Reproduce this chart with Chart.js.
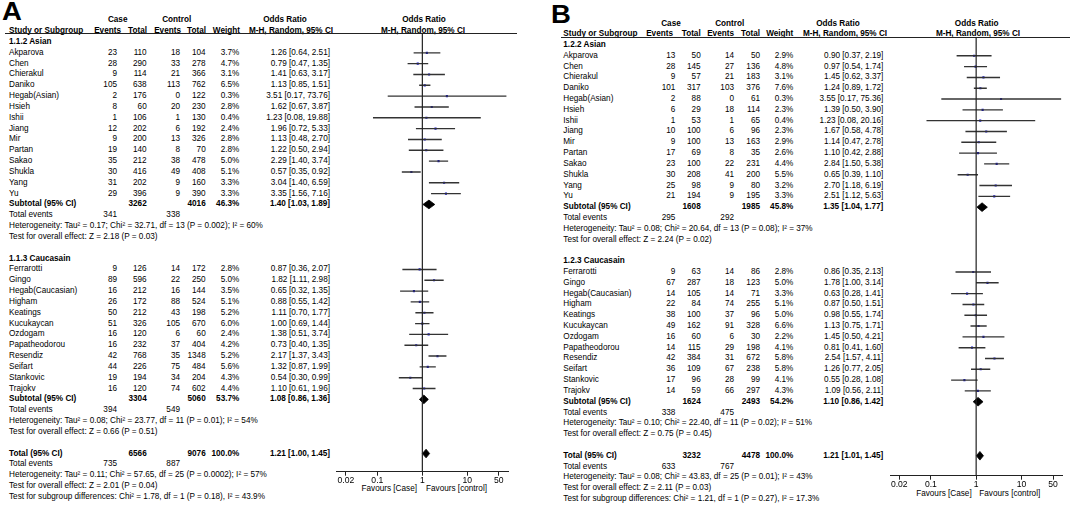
<!DOCTYPE html>
<html><head><meta charset="utf-8">
<script src="https://cdn.jsdelivr.net/npm/chart.js@4.4.1/dist/chart.umd.min.js"></script>
<style>
html,body{margin:0;padding:0;background:#fff;}
body{width:1072px;height:505px;position:relative;overflow:hidden;font-family:"Liberation Sans",Arial,sans-serif;}
.t{position:absolute;font-size:8.2px;line-height:1;white-space:nowrap;color:#000;}
.b{font-weight:bold;}
.hl{position:absolute;height:0;border-top:1px solid #222;}
.lab{position:absolute;font-weight:bold;font-size:25px;line-height:1;color:#000;transform-origin:left top;transform:scaleX(1.1);}
canvas{position:absolute;}
</style></head><body>
<div class="lab" style="left:2px;top:-1px;">A</div>
<div class="lab" style="left:551px;top:2px;">B</div>
<script>
// ---------- DATA ----------
const asianStudies = ["Akparova","Chen","Chierakul","Daniko","Hegab(Asian)","Hsieh","Ishii","Jiang","Mir","Partan","Sakao","Shukla","Yang","Yu"];
const caucStudies = ["Ferrarotti","Gingo","Hegab(Caucasian)","Higham","Keatings","Kucukaycan","Ozdogam","Papatheodorou","Resendiz","Seifart","Stankovic","Trajokv"];
const tickValues = [0.02, 0.1, 1, 10, 50];
const tickLabels = ["0.02", "0.1", "1", "10", "50"];

// Panel A (Asian 14 then Caucasian 12)
const caseEventsA = [23,28,9,105,2,8,1,12,9,19,35,30,31,29, 9,89,16,26,50,51,16,16,42,44,19,16];
const caseTotalA  = [110,290,114,638,176,60,106,202,200,140,212,416,202,396, 126,596,212,172,212,326,120,232,768,226,194,120];
const ctrlEventsA = [18,33,21,113,0,20,1,6,13,8,38,49,9,9, 14,22,16,88,43,105,6,37,35,75,34,74];
const ctrlTotalA  = [104,278,366,762,122,230,130,192,326,70,478,408,160,390, 172,250,144,524,198,670,60,404,1348,484,204,602];
const weightA     = [3.7,4.7,3.1,6.5,0.3,2.8,0.4,2.4,2.8,2.8,5.0,5.1,3.3,3.3, 2.8,5.0,3.5,5.1,5.2,6.0,2.4,4.2,5.2,5.6,4.3,4.4];
const orA = [1.26,0.79,1.41,1.13,3.51,1.62,1.23,1.96,1.13,1.22,2.29,0.57,3.04,3.35, 0.87,1.82,0.65,0.88,1.11,1.00,1.38,0.73,2.17,1.32,0.54,1.10];
const loA = [0.64,0.47,0.63,0.85,0.17,0.67,0.08,0.72,0.48,0.50,1.40,0.35,1.40,1.56, 0.36,1.11,0.32,0.55,0.70,0.69,0.51,0.40,1.37,0.87,0.30,0.61];
const hiA = [2.51,1.35,3.17,1.51,73.76,3.87,19.88,5.33,2.70,2.94,3.74,0.92,6.59,7.16, 2.07,2.98,1.35,1.42,1.77,1.44,3.74,1.35,3.43,1.99,0.99,1.96];
// summaries: Asian subtotal, Caucasian subtotal, overall total
const sumCaseTotalA = [3262, 3304, 6566];
const sumCtrlTotalA = [4016, 5060, 9076];
const sumWeightA = [46.3, 53.7, 100.0];
const sumOrA = [1.40, 1.08, 1.21];
const sumLoA = [1.03, 0.86, 1.00];
const sumHiA = [1.89, 1.36, 1.45];
const totEvCaseA = [341, 394, 735];
const totEvCtrlA = [338, 549, 887];
const hetA = ["Heterogeneity: Tau² = 0.17; Chi² = 32.71, df = 13 (P = 0.002); I² = 60%",
              "Heterogeneity: Tau² = 0.08; Chi² = 23.77, df = 11 (P = 0.01); I² = 54%",
              "Heterogeneity: Tau² = 0.11; Chi² = 57.65, df = 25 (P = 0.0002); I² = 57%"];
const effectA = ["Test for overall effect: Z = 2.18 (P = 0.03)",
                 "Test for overall effect: Z = 0.66 (P = 0.51)",
                 "Test for overall effect: Z = 2.01 (P = 0.04)"];
const subgroupTestA = "Test for subgroup differences: Chi² = 1.78, df = 1 (P = 0.18), I² = 43.9%";
const groupTitlesA = ["1.1.2 Asian", "1.1.3 Caucasain"];

// Panel B
const caseEventsB = [13,28,9,101,2,6,1,10,9,17,23,30,25,21, 9,67,14,22,38,49,16,14,42,36,17,14];
const caseTotalB  = [50,145,57,317,88,29,53,100,100,69,100,208,98,194, 63,287,105,84,100,162,60,115,384,109,96,59];
const ctrlEventsB = [14,27,21,103,0,18,1,6,13,8,22,41,9,9, 14,18,14,74,37,91,6,29,31,67,28,66];
const ctrlTotalB  = [50,136,183,376,61,114,65,96,163,35,231,200,80,195, 86,123,71,255,96,328,30,198,672,238,99,297];
const weightB     = [2.9,4.8,3.1,7.6,0.3,2.3,0.4,2.3,2.9,2.6,4.4,5.5,3.2,3.3, 2.8,5.0,3.3,5.1,5.0,6.6,2.2,4.1,5.8,5.8,4.1,4.3];
const orB = [0.90,0.97,1.45,1.24,3.55,1.39,1.23,1.67,1.14,1.10,2.84,0.65,2.70,2.51, 0.86,1.78,0.63,0.87,0.98,1.13,1.45,0.81,2.54,1.26,0.55,1.09];
const loB = [0.37,0.54,0.62,0.89,0.17,0.50,0.08,0.58,0.47,0.42,1.50,0.39,1.18,1.12, 0.35,1.00,0.28,0.50,0.55,0.75,0.50,0.41,1.57,0.77,0.28,0.56];
const hiB = [2.19,1.74,3.37,1.72,75.36,3.90,20.16,4.78,2.78,2.88,5.38,1.10,6.19,5.63, 2.13,3.14,1.41,1.51,1.74,1.71,4.21,1.60,4.11,2.05,1.08,2.11];
const sumCaseTotalB = [1608, 1624, 3232];
const sumCtrlTotalB = [1985, 2493, 4478];
const sumWeightB = [45.8, 54.2, 100.0];
const sumOrB = [1.35, 1.10, 1.21];
const sumLoB = [1.04, 0.86, 1.01];
const sumHiB = [1.77, 1.42, 1.45];
const totEvCaseB = [295, 338, 633];
const totEvCtrlB = [292, 475, 767];
const hetB = ["Heterogeneity: Tau² = 0.08; Chi² = 20.64, df = 13 (P = 0.08); I² = 37%",
              "Heterogeneity: Tau² = 0.10; Chi² = 22.40, df = 11 (P = 0.02); I² = 51%",
              "Heterogeneity: Tau² = 0.08; Chi² = 43.83, df = 25 (P = 0.01); I² = 43%"];
const effectB = ["Test for overall effect: Z = 2.24 (P = 0.02)",
                 "Test for overall effect: Z = 0.75 (P = 0.45)",
                 "Test for overall effect: Z = 2.11 (P = 0.03)"];
const subgroupTestB = "Test for subgroup differences: Chi² = 1.21, df = 1 (P = 0.27), I² = 17.3%";
const groupTitlesB = ["1.2.2 Asian", "1.2.3 Caucasain"];

// ---------- LAYOUT ----------
function txt(s, x, y, align, bold) {
  const d = document.createElement('div');
  d.className = 't' + (bold ? ' b' : '');
  d.textContent = s;
  d.style.top = (y - 4) + 'px';
  d.style.left = x + 'px';
  if (align === 'r') d.style.transform = 'translateX(-100%)';
  else if (align === 'c') d.style.transform = 'translateX(-50%)';
  document.body.appendChild(d);
}
function hline(x1, x2, y) {
  const d = document.createElement('div');
  d.className = 'hl';
  d.style.left = x1 + 'px'; d.style.width = (x2 - x1) + 'px'; d.style.top = (y - 0.5) + 'px';
  document.body.appendChild(d);
}
const fmtOR = (o, l, h) => o.toFixed(2) + ' [' + l.toFixed(2) + ', ' + h.toFixed(2) + ']';

function panel(L, D) {
  const rowY = r => L.row0 + r * L.rowH;
  // headers
  txt('Case', L.caseC, L.h1, 'c', true);
  txt('Control', L.ctrlC, L.h1, 'c', true);
  txt('Odds Ratio', L.orH1, L.h1, 'c', true);
  txt('Odds Ratio', L.plotH1, L.h1, 'c', true);
  txt('Study or Subgroup', L.nameX, L.h2, 'l', true);
  txt('Events', L.hdr[0], L.h2, 'r', true);
  txt('Total', L.hdr[1], L.h2, 'r', true);
  txt('Events', L.hdr[2], L.h2, 'r', true);
  txt('Total', L.hdr[3], L.h2, 'r', true);
  txt('Weight', L.hdr[4], L.h2, 'r', true);
  txt('M-H, Random, 95% CI', L.orH2, L.h2, 'c', true);
  txt('M-H, Random, 95% CI', L.plotH2, L.h2, 'c', true);
  hline(L.lineX1, L.lineX2, L.lineY);

  const studyRows = [];
  const names = asianStudies.concat(caucStudies);
  names.forEach((n, i) => {
    const r = i < asianStudies.length ? i + 1 : i - asianStudies.length + 21;
    studyRows.push(r);
    const y = rowY(r);
    txt(n, L.nameX, y, 'l', false);
    txt(String(D.ce[i]), L.col[0], y, 'r');
    txt(String(D.ct[i]), L.col[1], y, 'r');
    txt(String(D.ke[i]), L.col[2], y, 'r');
    txt(String(D.kt[i]), L.col[3], y, 'r');
    txt(D.w[i].toFixed(1) + '%', L.col[4], y, 'r');
    txt(fmtOR(D.or[i], D.lo[i], D.hi[i]), L.orX, y, 'r');
  });
  txt(D.titles[0], L.nameX, rowY(0), 'l', true);
  txt(D.titles[1], L.nameX, rowY(20), 'l', true);
  const sumRows = [15, 33, 38];
  sumRows.forEach((r, k) => {
    const y = rowY(r);
    txt(k < 2 ? 'Subtotal (95% CI)' : 'Total (95% CI)', L.nameX, y, 'l', true);
    txt(String(D.sct[k]), L.col[1], y, 'r', true);
    txt(String(D.skt[k]), L.col[3], y, 'r', true);
    txt(D.sw[k].toFixed(1) + '%', L.col[4], y, 'r', true);
    txt(fmtOR(D.sor[k], D.slo[k], D.shi[k]), L.orX, y, 'r', true);
    txt('Total events', L.nameX, rowY(r + 1), 'l');
    txt(String(D.tec[k]), L.col[0], rowY(r + 1), 'r');
    txt(String(D.tek[k]), L.col[2], rowY(r + 1), 'r');
    txt(D.het[k], L.nameX, rowY(r + 2), 'l');
    txt(D.eff[k], L.nameX, rowY(r + 3), 'l');
  });
  txt(D.sub, L.nameX, rowY(42), 'l');
  txt('Favours [Case]', L.fav1, L.favY, 'r');
  txt('Favours [control]', L.fav2, L.favY, 'l');

  // chart
  const cv = document.createElement('canvas');
  cv.width = L.cv.w; cv.height = L.cv.h;
  cv.style.left = L.cv.l + 'px'; cv.style.top = L.cv.t + 'px';
  cv.style.width = L.cv.w + 'px'; cv.style.height = L.cv.h + 'px';
  document.body.appendChild(cv);
  const chartTop = L.lineY, chartBottom = L.axisY;
  const yMin = (chartTop - L.row0) / L.rowH;
  const yMax = (chartBottom - L.row0) / L.rowH;
  const datasets = [];
  datasets.push({ data: [{x: 1, y: yMin}, {x: 1, y: yMax}], showLine: true, borderColor: '#222', borderWidth: 1.2, pointRadius: 0, clip: false });
  names.forEach((n, i) => {
    datasets.push({ data: [{x: D.lo[i], y: studyRows[i]}, {x: D.hi[i], y: studyRows[i]}], showLine: true, borderColor: '#333', borderWidth: 1.4, pointRadius: 0 });
  });
  datasets.push({ data: names.map((n, i) => ({x: D.or[i], y: studyRows[i]})), showLine: false, pointStyle: 'rect', pointRadius: 1.5, backgroundColor: '#1010d0', borderWidth: 0 });
  const hh = 0.4;
  sumRows.forEach((r, k) => {
    datasets.push({ data: [{x: D.slo[k], y: r}, {x: D.sor[k], y: r - hh}, {x: D.shi[k], y: r}, {x: D.sor[k], y: r + hh}, {x: D.slo[k], y: r}],
      showLine: true, fill: 'shape', backgroundColor: '#000', borderColor: '#000', borderWidth: 0.8, pointRadius: 0, tension: 0 });
  });
  new Chart(cv, {
    type: 'scatter',
    data: { datasets },
    options: {
      responsive: false, animation: false, devicePixelRatio: 1,
      layout: { autoPadding: false, padding: { left: L.chartL - L.cv.l, right: L.cv.l + L.cv.w - L.chartR, top: chartTop - L.cv.t, bottom: L.cv.t + L.cv.h - chartBottom - 14 } },
      plugins: { legend: { display: false }, tooltip: { enabled: false } },
      scales: {
        x: {
          type: 'logarithmic', min: 0.0125, max: 80,
          afterBuildTicks: s => { s.ticks = tickValues.map(v => ({ value: v })); },
          afterFit: s => { s.height = 14; },
          ticks: { callback: (v) => tickLabels[tickValues.indexOf(v)] ?? '', font: { family: 'Liberation Sans', size: 8.6 }, color: '#000', padding: 0, maxRotation: 0, autoSkip: false },
          grid: { drawOnChartArea: false, drawTicks: true, tickLength: 4, color: '#222' },
          border: { display: true, color: '#222', width: 1 }
        },
        y: { type: 'linear', min: yMin, max: yMax, reverse: true, display: false }
      }
    }
  });
}

panel({
  row0: 42, rowH: 10.83, h1: 20, h2: 31, nameX: 9,
  caseC: 117.7, ctrlC: 176.7, orH1: 285, orH2: 291, plotH1: 424, plotH2: 423,
  hdr: [121, 147, 181, 206, 240], col: [117, 146.7, 180, 205.7, 239.3], orX: 330,
  lineX1: 5, lineX2: 517, lineY: 33.5, axisY: 471.7, chartL: 336.7, chartR: 508,
  cv: { l: 330, t: 28, w: 190, h: 472 }, fav1: 417, fav2: 426, favY: 489
}, { ce: caseEventsA, ct: caseTotalA, ke: ctrlEventsA, kt: ctrlTotalA, w: weightA, or: orA, lo: loA, hi: hiA,
     sct: sumCaseTotalA, skt: sumCtrlTotalA, sw: sumWeightA, sor: sumOrA, slo: sumLoA, shi: sumHiA,
     tec: totEvCaseA, tek: totEvCtrlA, het: hetA, eff: effectA, sub: subgroupTestA, titles: groupTitlesA });

panel({
  row0: 45, rowH: 10.81, h1: 24, h2: 34.3, nameX: 563.3,
  caseC: 671, ctrlC: 729.7, orH1: 838, orH2: 845, plotH1: 976.7, plotH2: 978,
  hdr: [673, 700.7, 734, 760, 793.3], col: [675.3, 700.7, 734, 760, 793.3], orX: 883.3,
  lineX1: 561, lineX2: 1070, lineY: 37.7, axisY: 475.7, chartL: 890, chartR: 1062.3,
  cv: { l: 884, t: 32, w: 188, h: 473 }, fav1: 971.7, fav2: 979.3, favY: 494
}, { ce: caseEventsB, ct: caseTotalB, ke: ctrlEventsB, kt: ctrlTotalB, w: weightB, or: orB, lo: loB, hi: hiB,
     sct: sumCaseTotalB, skt: sumCtrlTotalB, sw: sumWeightB, sor: sumOrB, slo: sumLoB, shi: sumHiB,
     tec: totEvCaseB, tek: totEvCtrlB, het: hetB, eff: effectB, sub: subgroupTestB, titles: groupTitlesB });
</script>
</body></html>
